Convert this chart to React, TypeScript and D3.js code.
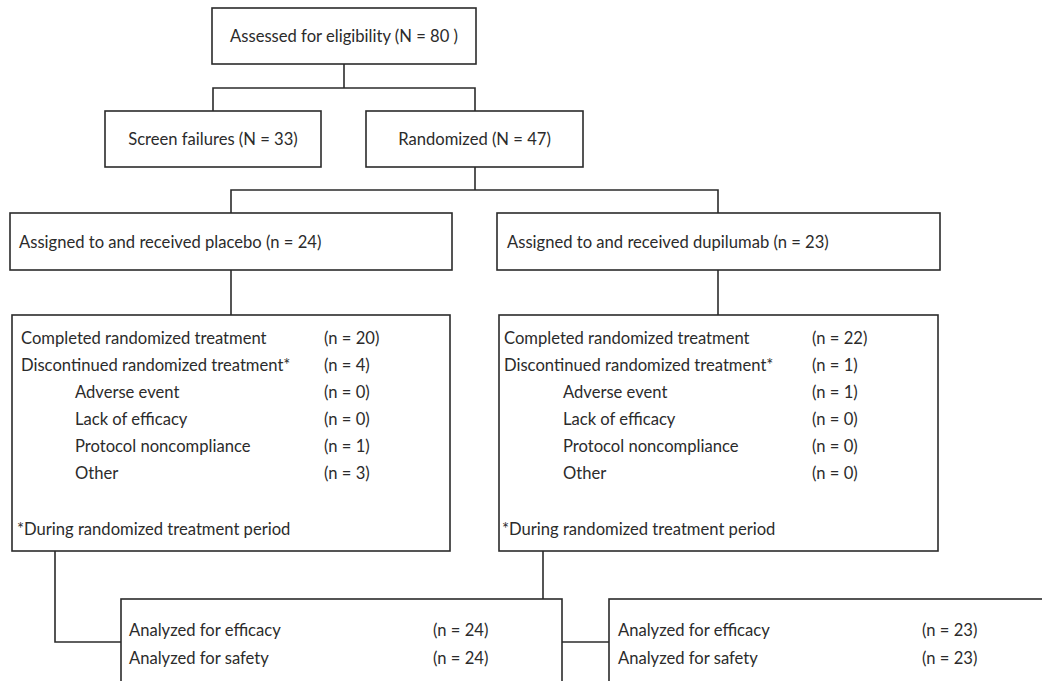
import React from "react";
import * as d3 from "d3";

// flow chart content
const screeningLabels = ["Assessed for eligibility (N = 80 )", "Screen failures (N = 33)", "Randomized (N = 47)"];
const armLabels = ["Assigned to and received placebo (n = 24)", "Assigned to and received dupilumab (n = 23)"];
const statusLabels = [
  "Completed randomized treatment",
  "Discontinued randomized treatment*",
  "Adverse event",
  "Lack of efficacy",
  "Protocol noncompliance",
  "Other",
];
const statusIndented = [false, false, true, true, true, true];
const placeboCounts = [20, 4, 0, 0, 1, 3];
const dupilumabCounts = [22, 1, 1, 0, 0, 0];
const analysisLabels = ["Analyzed for efficacy", "Analyzed for safety"];
const placeboAnalyzed = [24, 24];
const dupilumabAnalyzed = [23, 23];
const footnote = "*During randomized treatment period";

const W = 1042;
const H = 681;
const FONT = "Lato, 'Open Sans', sans-serif";
const FS = 16.6;
const INK = "#2b2b2b";
const SW = 1.6;

// box layout: [x0, y0, x1, y1]
const boxes = {
  assessed: [212, 8, 476, 64],
  screen: [105, 111, 321, 167],
  randomized: [366, 111, 583, 167],
  placebo: [10, 213, 452, 270],
  dupilumab: [497, 213, 940, 270],
  placeboDetail: [12, 315, 450, 551],
  dupilumabDetail: [499, 315, 938, 551],
  placeboAnalysis: [121, 599, 562, 700],
  dupilumabAnalysis: [609, 599, 1060, 700],
};

const cols = {
  placebo: { left: 21, indent: 75, value: 324, foot: 17 },
  dupilumab: { left: 504, indent: 563, value: 812, foot: 502 },
};

const rowY = d3.scalePoint<string>().domain(statusLabels).range([338, 473]);
const analysisY = d3.scalePoint<string>().domain(analysisLabels).range([630, 658]);

const connectors: [number, number][][] = [
  [[344, 64], [344, 88]],
  [[213, 111], [213, 88], [475, 88], [475, 111]],
  [[475, 167], [475, 190]],
  [[231, 213], [231, 190], [718, 190], [718, 213]],
  [[231, 270], [231, 315]],
  [[718, 270], [718, 315]],
  [[55, 551], [55, 642], [121, 642]],
  [[543, 551], [543, 599]],
  [[562, 642], [609, 642]],
];

const line = d3.line();

const Box = ({ b }: { b: number[] }) => (
  <rect x={b[0]} y={b[1]} width={b[2] - b[0]} height={b[3] - b[1]} fill="white" stroke={INK} strokeWidth={SW} />
);

const T = ({ x, y, children, anchor = "start" }: any) => (
  <text x={x} y={y} textAnchor={anchor} dominantBaseline="central" fontFamily={FONT} fontSize={FS} fill={INK}>
    {children}
  </text>
);

const Detail = ({ counts, c }: { counts: number[]; c: any }) => (
  <g>
    {statusLabels.map((s, i) => (
      <g key={s}>
        <T x={statusIndented[i] ? c.indent : c.left} y={rowY(s)}>{s}</T>
        <T x={c.value} y={rowY(s)}>{`(n = ${counts[i]})`}</T>
      </g>
    ))}
    <T x={c.foot} y={529}>{footnote}</T>
  </g>
);

const Analysis = ({ counts, x, vx }: { counts: number[]; x: number; vx: number }) => (
  <g>
    {analysisLabels.map((s, i) => (
      <g key={s}>
        <T x={x} y={analysisY(s)}>{s}</T>
        <T x={vx} y={analysisY(s)}>{`(n = ${counts[i]})`}</T>
      </g>
    ))}
  </g>
);

const App = () => {
  const mid = (b: number[]) => [(b[0] + b[2]) / 2, (b[1] + b[3]) / 2];
  return (
    <svg width={W} height={H} style={{ position: "absolute", left: 0, top: 0, background: "white" }}>
      {connectors.map((pts, i) => (
        <path key={i} d={line(pts) || ""} fill="none" stroke={INK} strokeWidth={SW} />
      ))}
      {Object.values(boxes).map((b, i) => (
        <Box key={i} b={b} />
      ))}
      <T x={mid(boxes.assessed)[0]} y={mid(boxes.assessed)[1]} anchor="middle">{screeningLabels[0]}</T>
      <T x={mid(boxes.screen)[0]} y={mid(boxes.screen)[1]} anchor="middle">{screeningLabels[1]}</T>
      <T x={mid(boxes.randomized)[0]} y={mid(boxes.randomized)[1]} anchor="middle">{screeningLabels[2]}</T>
      <T x={19} y={242}>{armLabels[0]}</T>
      <T x={507} y={242}>{armLabels[1]}</T>
      <Detail counts={placeboCounts} c={cols.placebo} />
      <Detail counts={dupilumabCounts} c={cols.dupilumab} />
      <Analysis counts={placeboAnalyzed} x={129} vx={433} />
      <Analysis counts={dupilumabAnalyzed} x={618} vx={922} />
    </svg>
  );
};

export default App;
